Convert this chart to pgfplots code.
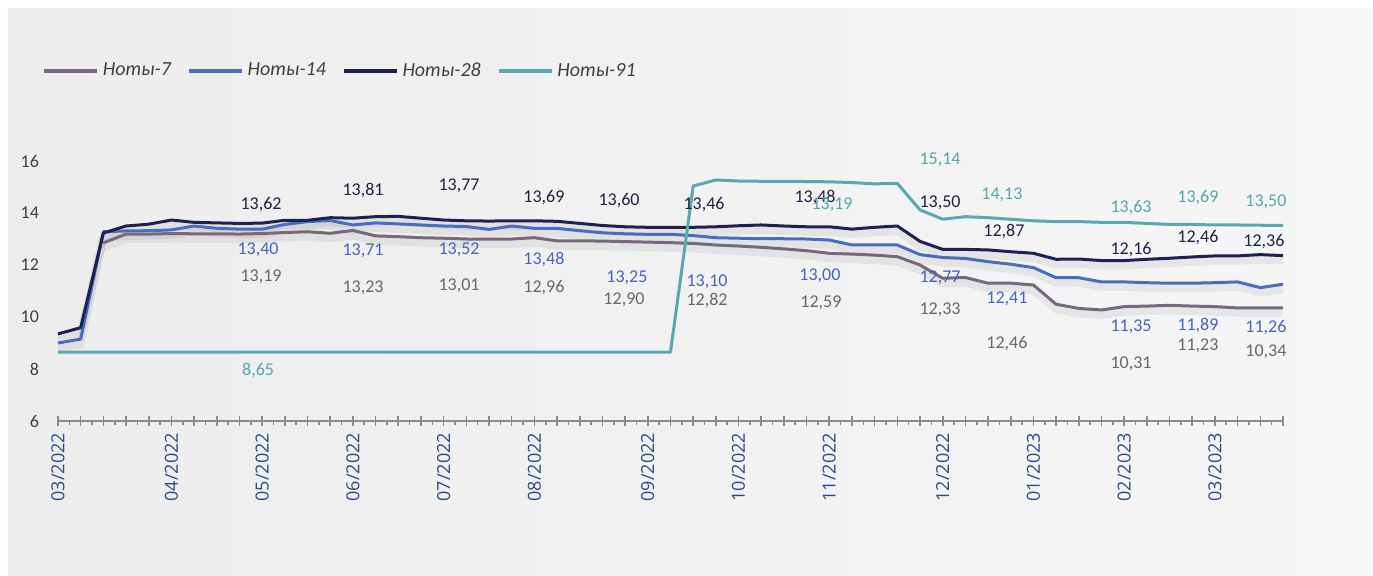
\documentclass[border=0pt]{standalone}
\usepackage{fontspec}
\setmainfont{Carlito}
\newfontfamily\xfont{Open Sans}
\usepackage{pgfplots}
\pgfplotsset{compat=1.18}
\usetikzlibrary{backgrounds}
\definecolor{c7}{HTML}{77697B}
\definecolor{c14}{HTML}{4A6CBF}
\definecolor{c28}{HTML}{1D2150}
\definecolor{c91}{HTML}{5AA7B0}
\definecolor{l7}{HTML}{6F6272}
\definecolor{l14}{HTML}{4466B8}
\definecolor{l28}{HTML}{1F2047}
\definecolor{l91}{HTML}{56A6AE}
\definecolor{xlab}{HTML}{2E4A8A}
\definecolor{txt}{HTML}{404040}
\definecolor{axgray}{HTML}{8C8C8C}
\definecolor{panelA}{HTML}{EDEDED}
\definecolor{panelB}{HTML}{F6F6F6}
\newcommand{\lab}[4]{\node[text=#1, font=\fontsize{9}{10}\selectfont, inner sep=0pt] at (axis cs:#2,#3) {#4};}
\begin{document}
\begin{tikzpicture}
\begin{axis}[
 at={(0,0)}, anchor=south west,
 scale only axis, width=612.5pt, height=130pt,
 xmin=0, xmax=54, ymin=6, ymax=16,
 clip=false,
 axis x line*=bottom, axis y line*=left,
 y axis line style={draw=none},
 x axis line style={draw=axgray, line width=0.8pt},
 ytick={6,8,...,16}, ytick style={draw=none},
 yticklabel style={font=\fontsize{9}{10}\selectfont, text=txt, xshift=-6pt},
 /pgf/number format/assume math mode=true,
 xtick={0,...,54},
 xticklabels={03/2022,,,,,04/2022,,,,05/2022,,,,06/2022,,,,07/2022,,,,08/2022,,,,,09/2022,,,,10/2022,,,,11/2022,,,,,12/2022,,,,01/2023,,,,02/2023,,,,03/2023,,,},
 xticklabel style={rotate=90, anchor=east, font=\xfont\fontsize{9}{10}\selectfont, text=xlab},
 minor x tick num=1,
 xtick align=center,
 major tick length=5pt, minor tick length=2pt,
 x tick style={draw=axgray, line width=0.8pt},
 minor x tick style={yshift=-1pt},
 legend columns=4,
 legend style={at={(-0.0131,1.346)}, anchor=west, draw=none, fill=none,
   font=\itshape\fontsize{10}{12}\selectfont, text=txt, inner sep=0pt,
   /tikz/every even column/.append style={column sep=6pt}},
 legend image code/.code={\draw[#1, line width=1.8pt] (0pt,0pt) -- (26.5pt,0pt);},
 every axis plot/.append style={line join=round},
]
% shadows
\addplot[forget plot, draw=black, opacity=0.06, line width=4pt, yshift=-2.5pt] coordinates {(2,12.85)(3,13.19)(4,13.19)(5,13.21)(6,13.20)(7,13.20)(8,13.19)(9,13.21)(10,13.25)(11,13.28)(12,13.22)(13,13.33)(14,13.12)(15,13.09)(16,13.05)(17,13.03)(18,13.00)(19,13.00)(20,13.00)(21,13.05)(22,12.93)(23,12.93)(24,12.92)(25,12.90)(26,12.88)(27,12.86)(28,12.83)(29,12.77)(30,12.73)(31,12.68)(32,12.62)(33,12.55)(34,12.45)(35,12.42)(36,12.38)(37,12.32)(38,12.00)(39,11.49)(40,11.52)(41,11.30)(42,11.30)(43,11.23)(44,10.49)(45,10.33)(46,10.27)(47,10.40)(48,10.42)(49,10.45)(50,10.42)(51,10.40)(52,10.35)(53,10.35)(54,10.35)};
\addplot[forget plot, draw=black, opacity=0.06, line width=4pt, yshift=-2.5pt] coordinates {(0,9.00)(1,9.15)(2,13.28)(3,13.31)(4,13.32)(5,13.35)(6,13.50)(7,13.41)(8,13.38)(9,13.38)(10,13.56)(11,13.67)(12,13.71)(13,13.54)(14,13.62)(15,13.58)(16,13.54)(17,13.50)(18,13.48)(19,13.37)(20,13.50)(21,13.41)(22,13.41)(23,13.32)(24,13.24)(25,13.20)(26,13.18)(27,13.18)(28,13.13)(29,13.05)(30,13.03)(31,13.01)(32,13.01)(33,13.00)(34,12.96)(35,12.77)(36,12.77)(37,12.77)(38,12.40)(39,12.29)(40,12.25)(41,12.13)(42,12.03)(43,11.90)(44,11.51)(45,11.51)(46,11.35)(47,11.35)(48,11.32)(49,11.30)(50,11.30)(51,11.32)(52,11.35)(53,11.13)(54,11.26)};
\addplot[forget plot, draw=black, opacity=0.06, line width=4pt, yshift=-2.5pt] coordinates {(0,9.35)(1,9.59)(2,13.23)(3,13.50)(4,13.57)(5,13.73)(6,13.64)(7,13.62)(8,13.60)(9,13.61)(10,13.72)(11,13.72)(12,13.82)(13,13.80)(14,13.86)(15,13.87)(16,13.80)(17,13.73)(18,13.70)(19,13.69)(20,13.70)(21,13.70)(22,13.68)(23,13.60)(24,13.52)(25,13.47)(26,13.45)(27,13.45)(28,13.45)(29,13.47)(30,13.51)(31,13.54)(32,13.50)(33,13.47)(34,13.47)(35,13.38)(36,13.45)(37,13.50)(38,12.91)(39,12.60)(40,12.60)(41,12.58)(42,12.51)(43,12.45)(44,12.22)(45,12.23)(46,12.17)(47,12.17)(48,12.22)(49,12.26)(50,12.31)(51,12.35)(52,12.35)(53,12.40)(54,12.36)};
% series
\addplot[c7, line width=1.5pt] coordinates {(2,12.85)(3,13.19)(4,13.19)(5,13.21)(6,13.20)(7,13.20)(8,13.19)(9,13.21)(10,13.25)(11,13.28)(12,13.22)(13,13.33)(14,13.12)(15,13.09)(16,13.05)(17,13.03)(18,13.00)(19,13.00)(20,13.00)(21,13.05)(22,12.93)(23,12.93)(24,12.92)(25,12.90)(26,12.88)(27,12.86)(28,12.83)(29,12.77)(30,12.73)(31,12.68)(32,12.62)(33,12.55)(34,12.45)(35,12.42)(36,12.38)(37,12.32)(38,12.00)(39,11.49)(40,11.52)(41,11.30)(42,11.30)(43,11.23)(44,10.49)(45,10.33)(46,10.27)(47,10.40)(48,10.42)(49,10.45)(50,10.42)(51,10.40)(52,10.35)(53,10.35)(54,10.35)};
\addlegendentry{Ноты-7}
\addplot[c14, line width=1.5pt] coordinates {(0,9.00)(1,9.15)(2,13.28)(3,13.31)(4,13.32)(5,13.35)(6,13.50)(7,13.41)(8,13.38)(9,13.38)(10,13.56)(11,13.67)(12,13.71)(13,13.54)(14,13.62)(15,13.58)(16,13.54)(17,13.50)(18,13.48)(19,13.37)(20,13.50)(21,13.41)(22,13.41)(23,13.32)(24,13.24)(25,13.20)(26,13.18)(27,13.18)(28,13.13)(29,13.05)(30,13.03)(31,13.01)(32,13.01)(33,13.00)(34,12.96)(35,12.77)(36,12.77)(37,12.77)(38,12.40)(39,12.29)(40,12.25)(41,12.13)(42,12.03)(43,11.90)(44,11.51)(45,11.51)(46,11.35)(47,11.35)(48,11.32)(49,11.30)(50,11.30)(51,11.32)(52,11.35)(53,11.13)(54,11.26)};
\addlegendentry{Ноты-14}
\addplot[c28, line width=1.5pt] coordinates {(0,9.35)(1,9.59)(2,13.23)(3,13.50)(4,13.57)(5,13.73)(6,13.64)(7,13.62)(8,13.60)(9,13.61)(10,13.72)(11,13.72)(12,13.82)(13,13.80)(14,13.86)(15,13.87)(16,13.80)(17,13.73)(18,13.70)(19,13.69)(20,13.70)(21,13.70)(22,13.68)(23,13.60)(24,13.52)(25,13.47)(26,13.45)(27,13.45)(28,13.45)(29,13.47)(30,13.51)(31,13.54)(32,13.50)(33,13.47)(34,13.47)(35,13.38)(36,13.45)(37,13.50)(38,12.91)(39,12.60)(40,12.60)(41,12.58)(42,12.51)(43,12.45)(44,12.22)(45,12.23)(46,12.17)(47,12.17)(48,12.22)(49,12.26)(50,12.31)(51,12.35)(52,12.35)(53,12.40)(54,12.36)};
\addlegendentry{Ноты-28}
\addplot[c91, line width=1.5pt] coordinates {(0,8.65)(1,8.65)(2,8.65)(3,8.65)(4,8.65)(5,8.65)(6,8.65)(7,8.65)(8,8.65)(9,8.65)(10,8.65)(11,8.65)(12,8.65)(13,8.65)(14,8.65)(15,8.65)(16,8.65)(17,8.65)(18,8.65)(19,8.65)(20,8.65)(21,8.65)(22,8.65)(23,8.65)(24,8.65)(25,8.65)(26,8.65)(27,8.65)(28,15.04)(29,15.27)(30,15.23)(31,15.22)(32,15.22)(33,15.21)(34,15.20)(35,15.17)(36,15.12)(37,15.14)(38,14.12)(39,13.76)(40,13.86)(41,13.82)(42,13.76)(43,13.70)(44,13.67)(45,13.67)(46,13.64)(47,13.64)(48,13.60)(49,13.56)(50,13.56)(51,13.54)(52,13.54)(53,13.53)(54,13.52)};
\addlegendentry{Ноты-91}
% labels Noty-28
\lab{l28}{8.95}{14.31}{13,62}
\lab{l28}{13.45}{14.88}{13,81}
\lab{l28}{17.68}{15.04}{13,77}
\lab{l28}{21.42}{14.58}{13,69}
\lab{l28}{24.73}{14.46}{13,60}
\lab{l28}{28.48}{14.31}{13,46}
\lab{l28}{33.37}{14.58}{13,48}
\lab{l28}{38.88}{14.38}{13,50}
\lab{l28}{41.70}{13.27}{12,87}
\lab{l28}{47.30}{12.58}{12,16}
\lab{l28}{50.25}{13.04}{12,46}
\lab{l28}{53.16}{12.92}{12,36}
% labels Noty-14
\lab{l14}{8.82}{12.58}{13,40}
\lab{l14}{13.45}{12.54}{13,71}
\lab{l14}{17.68}{12.58}{13,52}
\lab{l14}{21.42}{12.23}{13,48}
\lab{l14}{25.08}{11.50}{13,25}
\lab{l14}{28.61}{11.35}{13,10}
\lab{l14}{33.59}{11.58}{13,00}
\lab{l14}{38.88}{11.50}{12,77}
\lab{l14}{41.83}{10.69}{12,41}
\lab{l14}{47.30}{9.62}{11,35}
\lab{l14}{50.25}{9.69}{11,89}
\lab{l14}{53.25}{9.58}{11,26}
% labels Noty-7
\lab{l7}{8.95}{11.54}{13,19}
\lab{l7}{13.45}{11.12}{13,23}
\lab{l7}{17.68}{11.19}{13,01}
\lab{l7}{21.42}{11.12}{12,96}
\lab{l7}{24.95}{10.65}{12,90}
\lab{l7}{28.61}{10.62}{12,82}
\lab{l7}{33.63}{10.54}{12,59}
\lab{l7}{38.88}{10.27}{12,33}
\lab{l7}{41.83}{8.96}{12,46}
\lab{l7}{47.30}{8.19}{10,31}
\lab{l7}{50.25}{8.88}{11,23}
\lab{l7}{53.25}{8.65}{10,34}
% labels Noty-91
\lab{l91}{8.82}{7.96}{8,65}
\lab{l91}{34.12}{14.31}{13,19}
\lab{l91}{38.88}{16.04}{15,14}
\lab{l91}{41.61}{14.69}{14,13}
\lab{l91}{47.30}{14.19}{13,63}
\lab{l91}{50.25}{14.58}{13,69}
\lab{l91}{53.25}{14.42}{13,50}
\end{axis}
\begin{scope}[on background layer]
\fill[white] (-29pt,-77pt) rectangle (657.5pt,210.5pt);
\shade[left color=panelA, right color=panelB] (-25pt,-77pt) rectangle (657.5pt,206.5pt);
\end{scope}
\end{tikzpicture}
\end{document}
